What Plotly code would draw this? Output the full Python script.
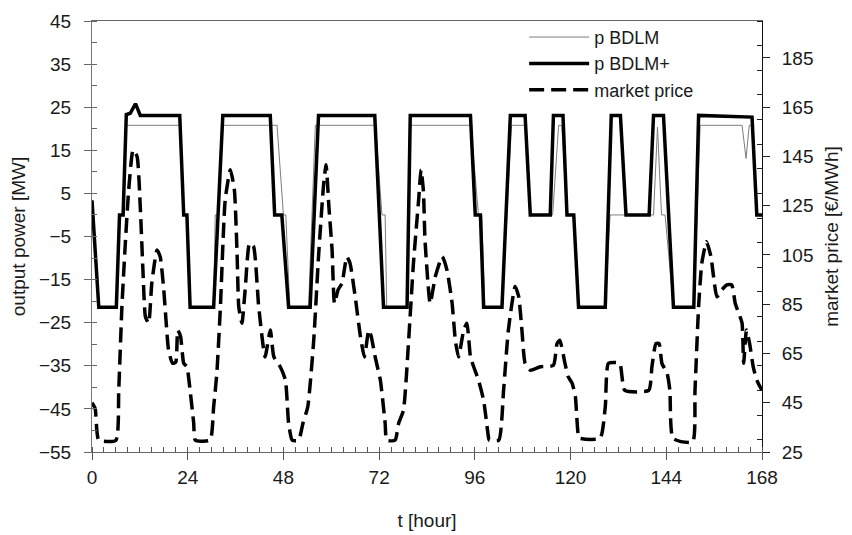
import plotly.graph_objects as go

# ---- data ----
t_plus = [0, 1.7, 6.1, 6.9, 7.8, 8.6, 9.6, 10.2, 10.9, 11.5, 12.1, 22.0, 23.0, 23.8, 24.6,
          30.5, 32.8, 44.7, 45.8, 47.6, 49.3, 54.7, 56.8, 70.9, 73.1, 79.0, 79.8,
          94.9, 96.1, 97.4, 98.2, 102.8, 104.9, 108.6, 109.9, 114.9, 115.7, 118.1,
          119.1, 120.8, 122.0, 128.7, 130.2, 132.5, 133.9, 139.7, 140.8, 143.3,
          145.8, 150.9, 152.1, 165.5, 166.7, 168]
p_plus = [3.4, -21.4, -21.4, 0, 0, 23.3, 23.6, 24.6, 25.8, 24.5, 23.1, 23.1, 0, 0, -21.4,
          -21.4, 23.1, 23.1, 0, 0, -21.4, -21.4, 23.1, 23.1, -21.4, -21.4, 23.1,
          23.1, 0, 0, -21.4, -21.4, 23.1, 23.1, 0, 0, 23.1, 23.1,
          0, 0, -21.4, -21.4, 23.1, 23.1, 0, 0, 23.1, 23.1,
          -21.4, -21.4, 23.1, 22.7, 0, 0]

t_bdlm = [0, 1.7, 6.1, 6.9, 7.8, 8.6, 22.3, 23.0, 23.8, 24.6, 30.5, 30.9, 31.6, 32.8,
          46.4, 48.0, 48.6, 49.6, 54.3, 56.0, 71.1, 72.7, 73.5, 73.9, 79.0, 79.8,
          95.0, 96.9, 97.7, 98.5, 102.8, 105.2, 108.6, 109.9, 115.5, 117.0, 117.8,
          119.1, 120.8, 122.0, 128.7, 129.9, 140.8, 141.8, 142.8, 143.7, 145.8,
          150.9, 152.5, 163.0, 164.0, 164.8, 165.5, 166.7, 168]
p_bdlm = [3.4, -21.4, -21.4, 0, 0, 20.8, 20.8, 0, 0, -21.4, -21.4, 0, 0, 20.8,
          20.8, 0, 0, -21.4, -21.4, 20.8, 20.8, 0, 0, -21.4, -21.4, 20.8,
          20.8, 0, 0, -21.4, -21.4, 20.8, 20.8, 0, 0, 20.8, 20.8,
          0, 0, -21.4, -21.4, 0, 0, 20.4, 0, 0, -21.4,
          -21.4, 20.8, 20.8, 13.1, 20.8, 20.8, 0, 0]

t_price = [0, 0.8, 1.7, 6.0, 6.7, 7.5, 8.4, 9.2, 10.3, 11.3, 12.1, 12.8, 13.4, 14.2,
           15.0, 16.3, 17.1, 18.0, 19.2, 20.2, 21.0, 21.5, 22.2, 23.0, 23.8, 24.6,
           25.5, 25.9, 29.6, 30.5, 31.3, 32.2, 33.4, 34.7, 35.7, 36.4, 36.8, 37.6,
           38.4, 39.5, 40.5, 41.8, 43.4, 44.7, 45.6, 47.2, 48.5, 49.3, 50.2, 51.8,
           52.9, 54.1, 55.6, 56.8, 58.1, 58.7, 59.4, 60.2, 60.8, 61.7, 62.7, 63.9,
           64.7, 66.0, 67.3, 68.3, 69.4, 70.0, 71.0, 72.3, 73.5, 73.9, 76.0, 76.9,
           78.1, 79.4, 80.6, 81.9, 82.5, 83.1, 83.5, 84.8, 86.1, 87.8, 89.0, 90.3,
           91.1, 91.9, 93.2, 94.0, 94.9, 95.7, 96.9, 98.2, 99.4, 99.6, 102.0, 103.2,
           104.4, 106.1, 107.0, 107.8, 108.6, 109.9, 112.4, 115.7, 116.6, 117.3,
           118.6, 119.4, 120.4, 121.2, 122.0, 122.4, 127.4, 128.7, 129.5, 132.3,
           133.6, 139.6, 140.4, 141.4, 142.2, 142.9, 144.2, 144.9, 145.7, 150.6,
           151.2, 152.1, 152.9, 154.1, 155.2, 156.7, 157.9, 159.2, 160.4, 161.3,
           162.2, 163.0, 163.4, 164.1, 164.9, 165.8, 166.7, 167.5, 168]
price = [45, 42.6, 29.8, 29.8, 50, 84, 111, 131.4, 147.7, 145, 124.6, 97.7, 79.9, 77.3,
         93.6, 107, 104.3, 90.8, 66.4, 61, 61.5, 74.5, 72, 61, 59.6, 50,
         36.7, 29.8, 29.8, 43.3, 56.9, 84, 127.4, 139.6, 131.4, 104.3, 84, 77.3,
         90.8, 109.8, 108.5, 84, 63.6, 74.5, 63.6, 59.6, 54.2, 36.7, 29.8, 29.8,
         36.7, 43.3, 70.4, 104.3, 134.1, 141.6, 124.6, 107, 85.3, 90.8, 93.6, 104.3,
         101.6, 88, 72, 63.6, 74.5, 72, 63.6, 54.2, 36.7, 29.8, 29.8, 36.7,
         42, 70.4, 101.6, 127.4, 139.6, 131, 111, 85.3, 96.3, 104.3, 98.9, 85.3,
         70.4, 63.6, 74.5, 77.3, 63.6, 59.6, 54.2, 46, 31.1, 29.8, 29.8, 50,
         74.5, 92.2, 88, 74.5, 61, 58.2, 59.6, 60.2, 69, 70.4,
         61, 55.6, 52.9, 47.5, 31.1, 30.5, 30.5, 43.3, 61, 61,
         50, 50, 59.6, 69, 69, 61, 57, 50, 30.5, 29,
         50, 84, 101.6, 110.4, 104.3, 88, 90.8, 92.9, 92.9, 85.3,
         81.3, 77.3, 61, 74.5, 69, 59.6, 54.2, 51.5, 50]

FONT = "Liberation Sans, Arial, sans-serif"
TXT = "#1a1a1a"
FS = 19

fig = go.Figure()
fig.add_trace(go.Scatter(x=t_bdlm, y=p_bdlm, name="p BDLM", mode="lines",
                         line=dict(color="#7d7d7d", width=1)))
fig.add_trace(go.Scatter(x=t_plus, y=p_plus, name="p BDLM+", mode="lines",
                         line=dict(color="black", width=3.5)))
fig.add_trace(go.Scatter(x=t_price, y=price, name="market price", mode="lines", yaxis="y2",
                         line=dict(color="black", width=3.5, dash="15px,7px",
                                   shape="spline", smoothing=0.5)))

fig.update_layout(
    width=852, height=535,
    margin=dict(l=92, r=90, t=21, b=83, autoexpand=False),
    paper_bgcolor="white", plot_bgcolor="white",
    font=dict(family=FONT, size=FS, color=TXT),
    showlegend=True,
    legend=dict(x=0.645, y=1.005, xanchor="left", yanchor="top",
                bgcolor="rgba(0,0,0,0)", font=dict(size=18, color=TXT),
                itemwidth=60, tracegroupgap=0),
    xaxis=dict(range=[0, 168], tick0=0, dtick=24, showgrid=False, zeroline=False,
               automargin=False,
               ticks="outside", ticklen=7, tickcolor="#555", tickwidth=1,
               showline=True, linecolor="#666", linewidth=1, mirror=True,
               ticklabelstandoff=1,
               minor=dict(dtick=3, ticks="inside", ticklen=5, tickcolor="#555"),
               title=dict(text="t [hour]", standoff=26, font=dict(size=FS))),
    yaxis=dict(range=[-55, 45], tick0=-55, dtick=10, showgrid=False, zeroline=False,
               automargin=False,
               ticks="outside", ticklen=7, tickcolor="#666", tickwidth=1,
               showline=True, linecolor="#777", linewidth=1,
               ticklabelstandoff=9,
               minor=dict(dtick=5, ticks="inside", ticklen=5, tickcolor="#666"),
               title=dict(text="output power [MW]", standoff=8, font=dict(size=FS))),
    yaxis2=dict(range=[25, 200], tick0=25, dtick=20, overlaying="y", side="right",
                showgrid=False, zeroline=False, automargin=False,
                ticks="outside", ticklen=7, tickcolor="#222", tickwidth=1,
                showline=True, linecolor="#111", linewidth=1,
                ticklabelstandoff=8,
                minor=dict(dtick=10, ticks="inside", ticklen=5, tickcolor="#222"),
                title=dict(text="market price [€/MWh]", standoff=12, font=dict(size=FS))),
    # overlay axes that draw the inner half of the crossing major ticks
    xaxis2=dict(range=[0, 168], tick0=0, dtick=24, overlaying="x", anchor="y", side="bottom",
                ticks="inside", ticklen=7, tickcolor="#555", showticklabels=False,
                showgrid=False, zeroline=False, showline=False),
    yaxis3=dict(range=[-55, 45], tick0=-55, dtick=10, overlaying="y", anchor="x", side="left",
                ticks="inside", ticklen=7, tickcolor="#666", showticklabels=False,
                showgrid=False, zeroline=False, showline=False),
    yaxis4=dict(range=[25, 200], tick0=25, dtick=20, overlaying="y", anchor="x", side="right",
                ticks="inside", ticklen=7, tickcolor="#222", showticklabels=False,
                showgrid=False, zeroline=False, showline=False),
)

fig.write_html("out.html")
